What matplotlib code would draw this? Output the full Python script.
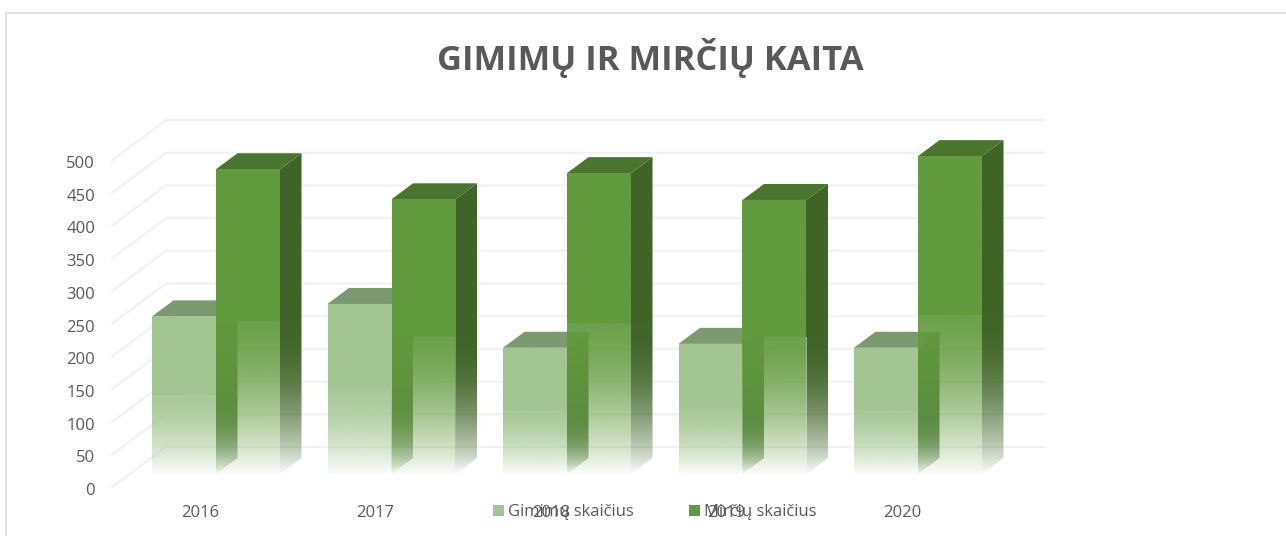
import numpy as np
import matplotlib
matplotlib.use("Agg")
import matplotlib.pyplot as plt
from matplotlib.lines import Line2D
from matplotlib.patches import Polygon, Patch
from matplotlib.transforms import ScaledTranslation

years = ["2016", "2017", "2018", "2019", "2020"]
births = [241, 260, 193, 199, 193]
deaths = [466, 420, 460, 419, 486]
ticks = [0, 50, 100, 150, 200, 250, 300, 350, 400, 450, 500]
title = "GIMIMŲ IR MIRČIŲ KAITA"
names = ["Gimimų skaičius", "Mirčių skaičius"]

W, H = 1286, 536
PXX = 175.5            # pixels per category
PXY = 0.654            # pixels per value unit
AX_L, AX_B, AX_T = 100, 488, 100
GREY = "#595959"

plt.rcParams["font.family"] = ["Open Sans", "DejaVu Sans"]
fig = plt.figure(figsize=(W / 100, H / 100), dpi=100)
fig.add_artist(Line2D([6 / W, 6 / W, 1], [0, 1 - 13 / H, 1 - 13 / H], transform=fig.transFigure,
                      color="#e2e2e2", lw=1.5))
ax = fig.add_axes([AX_L / W, (H - AX_B) / H, (W - AX_L) / W, (AX_B - AX_T) / H])
xlim = ((AX_L - 200) / PXX, (W - 200) / PXX)
ylim = (0, (AX_B - AX_T) / PXY)


def ux(p):
    return p / PXX


def uy(p):
    return p / PXY


# wall grid lines
for t in ticks:
    xs = [ux(111 - 200), ux(166 - 200), ux(1045 - 200)]
    ys = [t, t + uy(41), t + uy(41)]
    ax.plot(xs, ys, color="#f1f1f1", lw=1.6, clip_on=False, zorder=1, solid_capstyle="butt")

BASE = uy(14)
WID = ux(64)
DX, DY = ux(21.5), uy(16)


def face(pts, fill, val, z, strength, power):
    """Polygon face whose colour fades out below the bar's mid height."""
    pts = np.array(pts)
    lo, mid = BASE, BASE + val / 2
    yy = np.linspace(pts[:, 1].max(), pts[:, 1].min(), 400)
    rgba = np.zeros((400, 1, 4))
    rgba[..., :3] = matplotlib.colors.to_rgb(fill)
    depth = np.clip((mid - yy) / (mid - lo), 0, 1)
    rgba[:, 0, 3] = np.where(yy >= mid, 1.0, strength * (1 - depth ** power) + 0.03)
    im = ax.imshow(rgba, extent=[pts[:, 0].min(), pts[:, 0].max(), pts[:, 1].min(), pts[:, 1].max()],
                   aspect="auto", interpolation="bilinear", zorder=z)
    poly = Polygon(pts, closed=True, transform=ax.transData, fc="none", ec="none")
    ax.add_patch(poly)
    im.set_clip_path(poly)


def bar(x0, val, front, side, top, z):
    t = BASE + val
    r = x0 + WID
    m = BASE + val / 2
    # the one-pixel tuck under the front face stops above the fade, so no seam shows
    face([(r, BASE), (r + DX, BASE + DY), (r + DX, t + DY), (r, t), (r - ux(1), t), (r - ux(1), m), (r, m)],
         side, val, z, 0.97, 2)
    ax.add_patch(Polygon([(x0, t), (r, t), (r + DX, t + DY), (x0 + DX, t + DY)],
                         closed=True, fc=top, ec="none", zorder=z, clip_on=False))
    face([(x0, BASE), (r, BASE), (r, t), (x0, t)], front, val, z + 0.1, 0.9, 1.6)


for i in range(len(years)):
    bar(i + ux(-48), births[i], "#a3c592", "#567f42", "#7c996f", 2 + i)
    bar(i + ux(16), deaths[i], "#629a3e", "#3f6427", "#4a752e", 2.5 + i)

ax.set_xlim(xlim)
ax.set_ylim(ylim)
ax.patch.set_alpha(0)
for s in ax.spines.values():
    s.set_visible(False)
ax.set_yticks(ticks)
ax.set_xticks(range(len(years)), years)
ax.tick_params(axis="both", length=0, labelsize=12, labelcolor=GREY)
ax.tick_params(axis="y", pad=3.5)
ax.tick_params(axis="x", pad=12)
for lab in ax.get_yticklabels():
    lab.set_transform(lab.get_transform() + ScaledTranslation(0, -1 / 100, fig.dpi_scale_trans))

fig.text(650 / W, 1 - 58 / H, title, ha="center", va="center", fontsize=24.8,
         fontweight="bold", color=GREY)

handles = [Patch(fc="#a3c592"), Patch(fc="#629a3e")]
fig.legend(handles, names, ncols=2, frameon=False, fontsize=12, labelcolor=GREY,
           loc="center", bbox_to_anchor=(655 / W, 1 - 512 / H), handlelength=0.66, handleheight=0.66,
           handletextpad=0.24, columnspacing=3.3, borderpad=0)
fig.savefig("out.png", dpi=100)
